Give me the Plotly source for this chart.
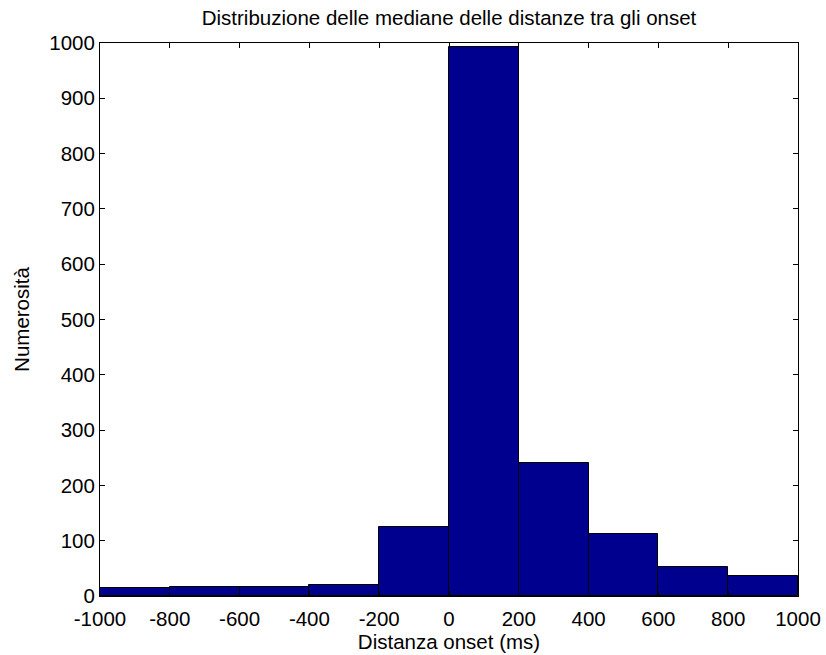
import plotly.graph_objects as go

bin_edges_left = [-1000, -800, -600, -400, -200, 0, 200, 400, 600, 800]
bin_width = 200
counts = [14, 17, 17, 19, 125, 993, 240, 112, 52, 37]
x_ticks = [-1000, -800, -600, -400, -200, 0, 200, 400, 600, 800, 1000]
x_tick_labels = ["-1000", "-800", "-600", "-400", "-200", "0", "200", "400", "600", "800", "1000"]
y_ticks = [0, 100, 200, 300, 400, 500, 600, 700, 800, 900, 1000]
y_tick_labels = ["0", "100", "200", "300", "400", "500", "600", "700", "800", "900", "1000"]

centers = [e + bin_width / 2 for e in bin_edges_left]

fig = go.Figure()
fig.add_trace(go.Bar(
    x=centers, y=counts, width=[bin_width] * len(counts),
    marker=dict(color="rgb(0,0,143)", line=dict(color="black", width=1)),
    showlegend=False,
))

font_family = "Arial, Liberation Sans, sans-serif"
FS = 20.5
axis_common = dict(
    showgrid=False, zeroline=False, showline=True, linecolor="black", linewidth=1,
    mirror="ticks", ticks="inside", ticklen=5, tickcolor="black", tickwidth=1,
    tickfont=dict(family=font_family, size=FS, color="black"),
    automargin=False,
)

W, H = 826, 655
fig.update_layout(
    width=W, height=H,
    margin=dict(l=100, r=28, t=43, b=59),
    paper_bgcolor="white", plot_bgcolor="white",
    bargap=0,
    font=dict(family=font_family, color="black"),
    title=dict(text="Distribuzione delle mediane delle distanze tra gli onset",
               x=(100 + (W - 28)) / 2 / W, xanchor="center",
               y=1 - 18 / H, yanchor="middle", yref="container",
               font=dict(family=font_family, size=FS, color="black")),
    xaxis=dict(range=[-1000, 1000], tickvals=x_ticks, ticktext=x_tick_labels,
               ticklabelstandoff=4,
               title=dict(text="Distanza onset (ms)", font=dict(family=font_family, size=FS), standoff=6),
               **axis_common),
    yaxis=dict(range=[0, 1000], tickvals=y_ticks, ticktext=y_tick_labels,
               title=dict(text="Numerosità", font=dict(family=font_family, size=FS), standoff=14),
               **axis_common),
)

fig.write_html("out.html", config={"displayModeBar": False},
               post_script="document.body.style.margin='0';document.body.style.overflow='hidden';")
